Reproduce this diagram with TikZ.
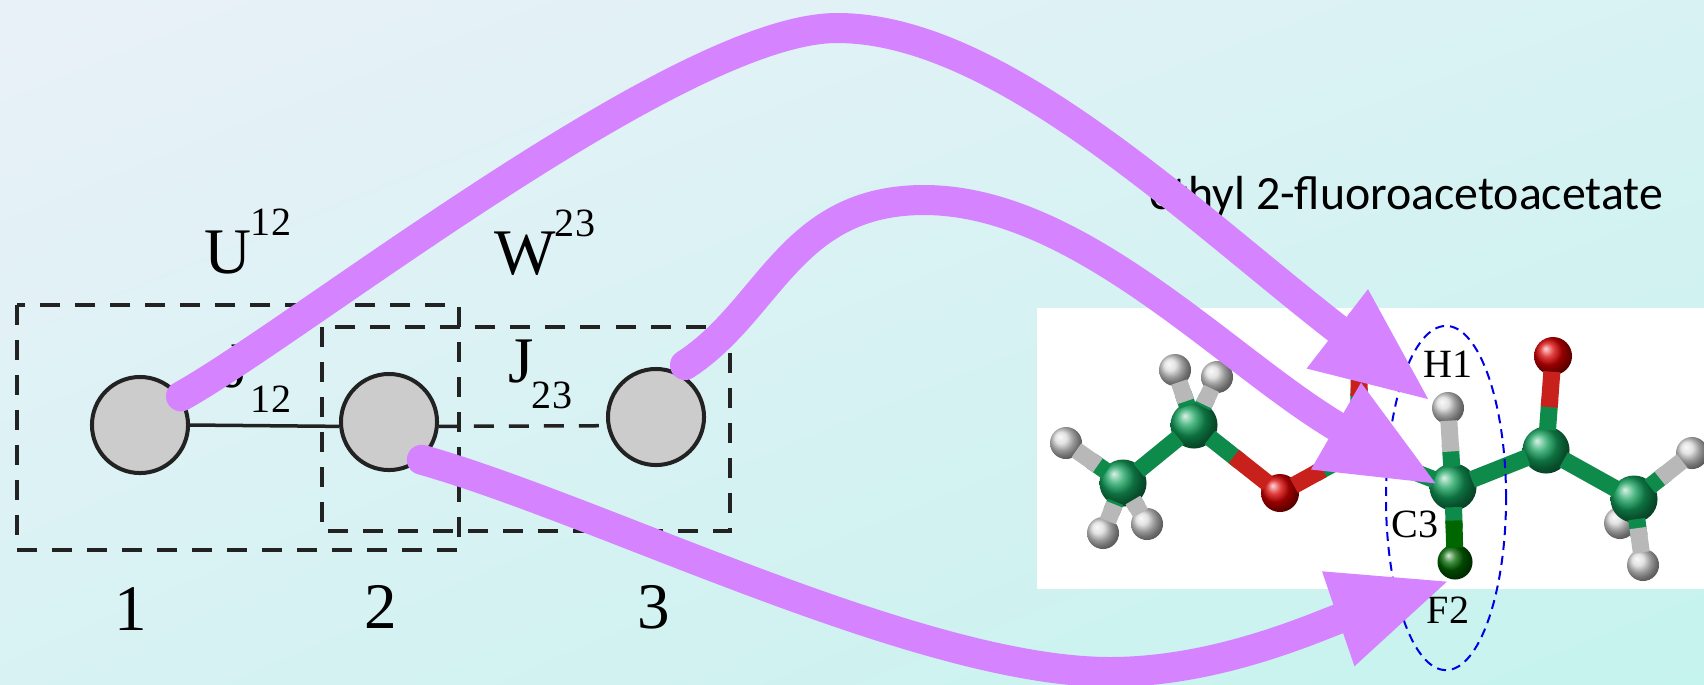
\documentclass[tikz,border=0pt]{standalone}
\usepackage{fontspec}
\usetikzlibrary{arrows.meta,calc,shadings,shapes.geometric}
\setmainfont{Liberation Serif}
\newfontfamily\titlefont{Carlito}
\definecolor{bgtl}{HTML}{E9F1F8}
\definecolor{bgtr}{HTML}{D8F2F3}
\definecolor{bgbl}{HTML}{D8F2F3}
\definecolor{bgbr}{HTML}{C5F3EE}
\definecolor{arrowpurple}{HTML}{D583FF}
\definecolor{atomgreen}{HTML}{12A05A}
\definecolor{bondgreen}{HTML}{0E8A4B}
\definecolor{bondred}{HTML}{C8201A}
\definecolor{bondgray}{HTML}{B8B8B8}
\definecolor{linegray}{HTML}{222222}

\begin{document}
\begin{tikzpicture}[x=0.01cm,y=-0.01cm]
  \tikzstyle{vertex}=[circle,draw=linegray,line width=.04cm,fill=black!20,minimum size=.96cm,inner sep=0pt]
  \tikzstyle{biglabel}=[anchor=base,inner sep=0pt,font=\fontsize{18.5}{20}\selectfont]
  \tikzstyle{smalllabel}=[anchor=base,inner sep=0pt,font=\fontsize{11.4}{13}\selectfont]
  \tikzstyle{box}=[draw=linegray,line width=.035cm,dash pattern=on .2cm off .15cm]
  \tikzstyle{carbon}=[circle,shading=ball,ball color=atomgreen,minimum size=.47cm,inner sep=0pt]
  \tikzstyle{hydrogen}=[circle,shading=ball,ball color=black!15,minimum size=.32cm,inner sep=0pt]
  \tikzstyle{oxygen}=[circle,shading=ball,ball color=red!85!black,minimum size=.38cm,inner sep=0pt]
  \tikzstyle{fluorine}=[circle,shading=ball,ball color=green!40!black,minimum size=.35cm,inner sep=0pt]
  \tikzstyle{bond}=[line width=.17cm,shorten <=-.04cm,shorten >=-.04cm]
  \tikzstyle{bigarrow}=[draw=arrowpurple,line width=.3cm,line cap=round,-{Triangle[length=1.2cm,width=.9cm,fill=arrowpurple]}]

  \useasboundingbox (0,0) rectangle (1704,684);
  \clip (0,0) rectangle (1704,684);
  \shade[upper left=bgtl,upper right=bgtr,lower left=bgbl,lower right=bgbr] (0,0) rectangle (1704,684);
  \fill[white] (1037,308) rectangle (1704,589);

  \node[anchor=base,inner sep=0pt,font=\fontsize{13.6}{15}\selectfont\titlefont] (title) at (1406,209) {ethyl 2-fluoroacetoacetate};

  \node[hydrogen] (H10) at (1620,523) {};
  \node[carbon]   (C1) at (1123,483) {};
  \node[carbon]   (C2) at (1194,425) {};
  \node[carbon]   (C3) at (1358,450) {};
  \node[carbon]   (C4) at (1453,487) {};
  \node[carbon]   (C5) at (1546,450) {};
  \node[carbon]   (C6) at (1634,499) {};
  \node[hydrogen] (H2) at (1066,443) {};
  \node[hydrogen] (H3) at (1103,533) {};
  \node[hydrogen] (H4) at (1147,524) {};
  \node[hydrogen] (H5) at (1175,370) {};
  \node[hydrogen] (H6) at (1217,377) {};
  \node[hydrogen] (H7) at (1448,408) {};
  \node[hydrogen] (H8) at (1692,453) {};
  \node[hydrogen] (H9) at (1643,565) {};
  \node[oxygen]   (O1) at (1280,493) {};
  \node[oxygen]   (O2) at (1360,334) {};
  \node[oxygen]   (O3) at (1553,356) {};
  \node[fluorine] (F1) at (1455,562) {};

  \foreach \a/\b in {C1/C2,C3/C4,C4/C5,C5/C6}
    \draw[bond,bondgreen] (\a) -- (\b);
  \foreach \a/\b/\c in {C1/H2/bondgray,C1/H3/bondgray,C1/H4/bondgray,C2/H5/bondgray,C2/H6/bondgray,C4/H7/bondgray,C6/H8/bondgray,C6/H9/bondgray,C2/O1/bondred,C3/O1/bondred,C3/O2/bondred,C5/O3/bondred,C4/F1/green!40!black} {
    \draw[bond,bondgreen] (\a) -- ($(\a)!.5!(\b)$);
    \draw[bond,\c] ($(\a)!.5!(\b)$) -- (\b);
  }

  \node[ellipse,draw=blue!90!black,line width=.02cm,dash pattern=on .09cm off .06cm,minimum width=1.2cm,minimum height=3.44cm,inner sep=0pt] (group) at (1446,498) {};
  \node[smalllabel] (lH1) at (1448,377) {H1};
  \node[smalllabel] (lC3) at (1415,537) {C3};
  \node[smalllabel] (lF2) at (1448,623) {F2};

  \node[vertex] (G1) at (140,425) {};
  \node[vertex] (G2) at (389,422) {};
  \node[vertex] (G3) at (656,417) {};
  \coordinate (G3out) at (685,365);
  \coordinate (C4in) at (1440,486);

  \draw[box] (17,305) rectangle (459,550);
  \draw[box] (322,327) rectangle (730,531);
  \draw[linegray,line width=.035cm] (G1.east) -- (G2.185);
  \draw[box] (G2.-5) -- (G3.190);

  \node[biglabel] (lU) at (228,273) {U};
  \node[smalllabel] (lU12) at (271,235) {12};
  \node[biglabel] (lW) at (525,274) {W};
  \node[smalllabel] (lW23) at (575,236) {23};
  \node[biglabel] (lJ1) at (237,387) {J};
  \node[smalllabel] (lJ12) at (271,412) {12};
  \node[biglabel] (lJ2) at (521,382) {J};
  \node[smalllabel] (lJ23) at (552,408) {23};
  \node[biglabel] (n1) at (131,630) {1};
  \node[biglabel] (n2) at (381,628) {2};
  \node[biglabel] (n3) at (654,628) {3};

  \draw[bigarrow] (G1.35) .. controls (300,330) and (680,28) .. (837,28) .. controls (1000,28) and (1190,215) .. (H7.160);
  \draw[bigarrow] (G3out) .. controls (770,310) and (790,200) .. (924,200) .. controls (1080,200) and (1230,365) .. (C4in);
  \draw[bigarrow] (G2.-49) .. controls (600,510) and (920,672) .. (1110,672) .. controls (1220,672) and (1320,625) .. (F1.-100);
\end{tikzpicture}
\end{document}
